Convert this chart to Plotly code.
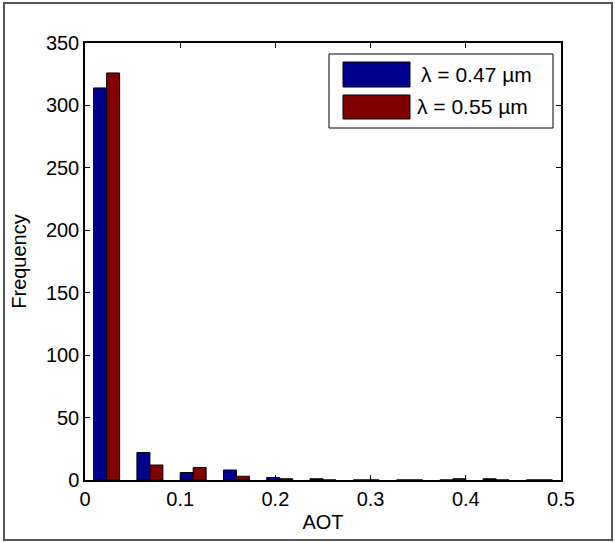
import numpy as np
import plotly.graph_objects as go

# Histogram of aerosol optical thickness at two wavelengths
bin_edges = np.linspace(0.0, 0.5, 12)
bin_centers = (bin_edges[:-1] + bin_edges[1:]) / 2

freq_047 = [314, 22, 6, 8, 2, 1, 0, 0, 0, 1, 0]
freq_055 = [326, 12, 10, 3, 1, 0, 0, 0, 1, 0, 0]

series_names = ["λ = 0.47 µm", "λ = 0.55 µm"]
series_colors = ["#00008f", "#800000"]

x_ticks = [0, 0.1, 0.2, 0.3, 0.4, 0.5]
y_ticks = [0, 50, 100, 150, 200, 250, 300, 350]

FONT = "Liberation Sans, Arial, sans-serif"
FS = 20

fig = go.Figure()
for name, vals, col in zip(series_names, [freq_047, freq_055], series_colors):
    fig.add_trace(go.Bar(
        x=bin_centers, y=vals, name=name,
        marker=dict(color=col, line=dict(color="black", width=1)),
        showlegend=False,
    ))

# plot area in pixels: x 85..561, y 43..480
L, R, T, B = 85, 561, 43, 480
W, H = R - L, B - T

def px(xp):
    return (xp - L) / W

def py(yp):
    return (B - yp) / H

shapes = [
    # outer figure frame
    dict(type="rect", xref="paper", yref="paper",
         x0=px(4), x1=px(612), y0=py(540), y1=py(3),
         line=dict(color="#555555", width=2), fillcolor="rgba(0,0,0,0)", layer="below"),
    # legend box
    dict(type="rect", xref="paper", yref="paper",
         x0=px(329), x1=px(553), y0=py(128), y1=py(54),
         line=dict(color="black", width=1), fillcolor="white", layer="above"),
]
annotations = []
swatch_rows = [(62, 87, 419), (95, 119, 415)]
for (y0, y1, tx), name, col in zip(swatch_rows, series_names, series_colors):
    shapes.append(dict(type="rect", xref="paper", yref="paper",
                       x0=px(343), x1=px(410), y0=py(y1), y1=py(y0),
                       line=dict(color="black", width=1), fillcolor=col, layer="above"))
    annotations.append(dict(xref="paper", yref="paper", x=px(tx), y=py((y0 + y1) / 2),
                            text=name, showarrow=False, xanchor="left", yanchor="middle",
                            font=dict(family=FONT, size=FS + 1, color="black")))

axis_common = dict(
    showline=True, linecolor="black", linewidth=1.5, mirror="ticks",
    ticks="inside", ticklen=5, tickwidth=1, tickcolor="black",
    showgrid=False, zeroline=False,
    tickfont=dict(family=FONT, size=FS, color="black"),
)

fig.update_layout(
    width=615, height=542,
    margin=dict(l=L, r=615 - R, t=T, b=542 - B),
    paper_bgcolor="white", plot_bgcolor="white",
    barmode="group", bargap=0.4, bargroupgap=0,
    xaxis=dict(range=[0, 0.5], tickvals=x_ticks, ticktext=[f"{v:g}" for v in x_ticks],
               title=dict(text="AOT", font=dict(family=FONT, size=FS, color="black"), standoff=6),
               **axis_common),
    yaxis=dict(range=[0, 350], tickvals=y_ticks,
               title=dict(text="Frequency", font=dict(family=FONT, size=FS, color="black"), standoff=14),
               **axis_common),
    shapes=shapes, annotations=annotations,
)

fig.write_html("out.html")
